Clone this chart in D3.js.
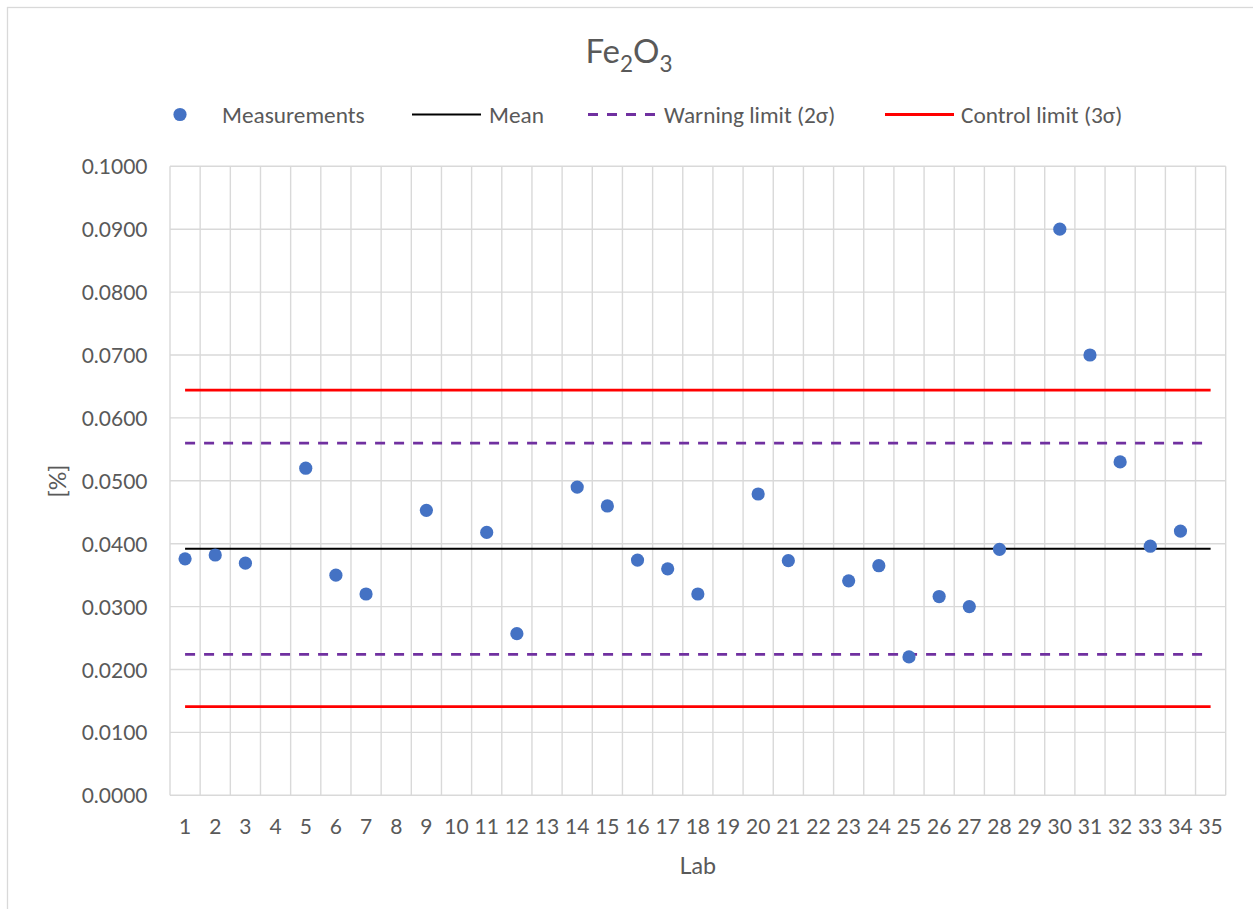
<!DOCTYPE html>
<html>
<head>
<meta charset="utf-8">
<script src="https://cdn.jsdelivr.net/npm/d3@7"></script>
<style>
  html, body { margin: 0; padding: 0; background: #fff; }
  svg { display: block; }
  text { font-family: Calibri, Carlito, Lato, "Open Sans", sans-serif; fill: #595959; }
</style>
</head>
<body>
<svg id="chart" width="1253" height="909"></svg>
<script>
// ---- data ----
const labs = ["1","2","3","4","5","6","7","8","9","10","11","12","13","14","15","16","17","18","19","20","21","22","23","24","25","26","27","28","29","30","31","32","33","34","35"];
const measurements = [0.0376, 0.0382, 0.0369, null, 0.0520, 0.0350, 0.0320, null, 0.0453, null,
                      0.0418, 0.0257, null, 0.0490, 0.0460, 0.0374, 0.0360, 0.0320, null, 0.0479,
                      0.0373, null, 0.0341, 0.0365, 0.0220, 0.0316, 0.0300, 0.0391, null, 0.0900,
                      0.0700, 0.0530, 0.0396, 0.0420, null];
const meanValue = [0.0392];
const warningLimits = [0.0224, 0.0560];
const controlLimits = [0.0141, 0.0644];
const yTicks = [0, 0.01, 0.02, 0.03, 0.04, 0.05, 0.06, 0.07, 0.08, 0.09, 0.10];
const legendItems = ["Measurements", "Mean", "Warning limit (2σ)", "Control limit (3σ)"];

// ---- layout ----
const W = 1253, H = 909;
const plot = { left: 170, right: 1225.7, top: 166.3, bottom: 795.3 };
const colors = { point: "#4472C4", mean: "#000000", warn: "#7030A0", ctrl: "#FF0000", grid: "#D9D9D9", text: "#595959" };
const labelFont = 23.3;

const svg = d3.select("#chart");

// chart border
svg.append("rect").attr("x", 7.5).attr("y", 7.5).attr("width", W + 10).attr("height", H + 10)
  .attr("fill", "#fff").attr("stroke", colors.grid).attr("stroke-width", 1.3);

const x = d3.scaleBand().domain(labs).range([plot.left, plot.right]).padding(0);
const y = d3.scaleLinear().domain([0, 0.1]).range([plot.bottom, plot.top]);
const cx = d => x(d) + x.bandwidth() / 2;

// horizontal gridlines
svg.append("g").selectAll("line").data(yTicks).join("line")
  .attr("x1", plot.left).attr("x2", plot.right)
  .attr("y1", d => y(d)).attr("y2", d => y(d))
  .attr("stroke", colors.grid).attr("stroke-width", 1.4);

// vertical gridlines at category boundaries
const bounds = labs.map(l => x(l)).concat([plot.right]);
svg.append("g").selectAll("line").data(bounds).join("line")
  .attr("x1", d => d).attr("x2", d => d)
  .attr("y1", plot.top).attr("y2", plot.bottom)
  .attr("stroke", colors.grid).attr("stroke-width", 1.4);

// y axis labels
const yAxis = d3.axisLeft(y).tickValues(yTicks).tickFormat(d3.format(".4f")).tickSize(0).tickPadding(0);
const ya = svg.append("g").attr("transform", `translate(${plot.left - 22.5},0)`).call(yAxis);
ya.select(".domain").remove();
ya.selectAll("text").attr("font-size", 21).attr("fill", colors.text)
  .style("font-family", "Lato, sans-serif").attr("dy", "0.36em");

// x axis labels
const xAxis = d3.axisBottom(x).tickSize(0).tickPadding(0);
const xa = svg.append("g").attr("transform", `translate(0,${plot.bottom})`).call(xAxis);
xa.select(".domain").remove();
xa.selectAll("text").attr("font-size", 21).attr("fill", colors.text)
  .style("font-family", "Lato, sans-serif").attr("dy", null).attr("y", 38.7);

// limit lines
const line = d3.line().x(d => cx(d[0])).y(d => y(d[1]));
const hLine = v => [[labs[0], v], [labs[labs.length - 1], v]];

controlLimits.forEach(v => svg.append("path").attr("d", line(hLine(v)))
  .attr("fill", "none").attr("stroke", colors.ctrl).attr("stroke-width", 2.8));
warningLimits.forEach(v => svg.append("path").attr("d", line(hLine(v)))
  .attr("fill", "none").attr("stroke", colors.warn).attr("stroke-width", 2.8).attr("stroke-dasharray", "10,9"));
meanValue.forEach(v => svg.append("path").attr("d", line(hLine(v)))
  .attr("fill", "none").attr("stroke", colors.mean).attr("stroke-width", 2.2));

// points
svg.append("g").selectAll("circle")
  .data(labs.map((l, i) => ({ lab: l, v: measurements[i] })).filter(d => d.v !== null))
  .join("circle")
  .attr("cx", d => cx(d.lab)).attr("cy", d => y(d.v)).attr("r", 6.6)
  .attr("fill", colors.point);

// title
const title = svg.append("text").attr("x", 629).attr("y", 62.5).attr("text-anchor", "middle")
  .attr("font-size", 33).style("font-family", "Lato, sans-serif").attr("fill", colors.text);
title.append("tspan").text("Fe");
title.append("tspan").text("2").attr("font-size", 22.5).attr("dy", 9);
title.append("tspan").text("O").attr("dy", -9);
title.append("tspan").text("3").attr("font-size", 22.5).attr("dy", 9);

// axis titles
svg.append("text").attr("x", (plot.left + plot.right) / 2).attr("y", 874)
  .attr("text-anchor", "middle").attr("font-size", labelFont).style("font-family", "Lato, sans-serif").text("Lab");
svg.append("text").attr("transform", "translate(66,481) rotate(-90)")
  .attr("text-anchor", "middle").attr("font-size", labelFont).style("font-family", "Lato, sans-serif").text("[%]");

// legend
const ly = 114.5;
const lg = svg.append("g").style("font-family", "Lato, sans-serif").attr("font-size", labelFont);
lg.append("circle").attr("cx", 180).attr("cy", ly).attr("r", 6.6).attr("fill", colors.point);
lg.append("text").attr("x", 222).attr("y", ly + 8).text(legendItems[0]);
lg.append("line").attr("x1", 412).attr("x2", 481).attr("y1", ly).attr("y2", ly)
  .attr("stroke", colors.mean).attr("stroke-width", 2.2);
lg.append("text").attr("x", 489).attr("y", ly + 8).text(legendItems[1]);
lg.append("line").attr("x1", 588).attr("x2", 655).attr("y1", ly).attr("y2", ly)
  .attr("stroke", colors.warn).attr("stroke-width", 2.8).attr("stroke-dasharray", "10,9");
lg.append("text").attr("x", 664).attr("y", ly + 8).text(legendItems[2]);
lg.append("line").attr("x1", 885).attr("x2", 954).attr("y1", ly).attr("y2", ly)
  .attr("stroke", colors.ctrl).attr("stroke-width", 2.8);
lg.append("text").attr("x", 961).attr("y", ly + 8).text(legendItems[3]);
</script>
</body>
</html>
